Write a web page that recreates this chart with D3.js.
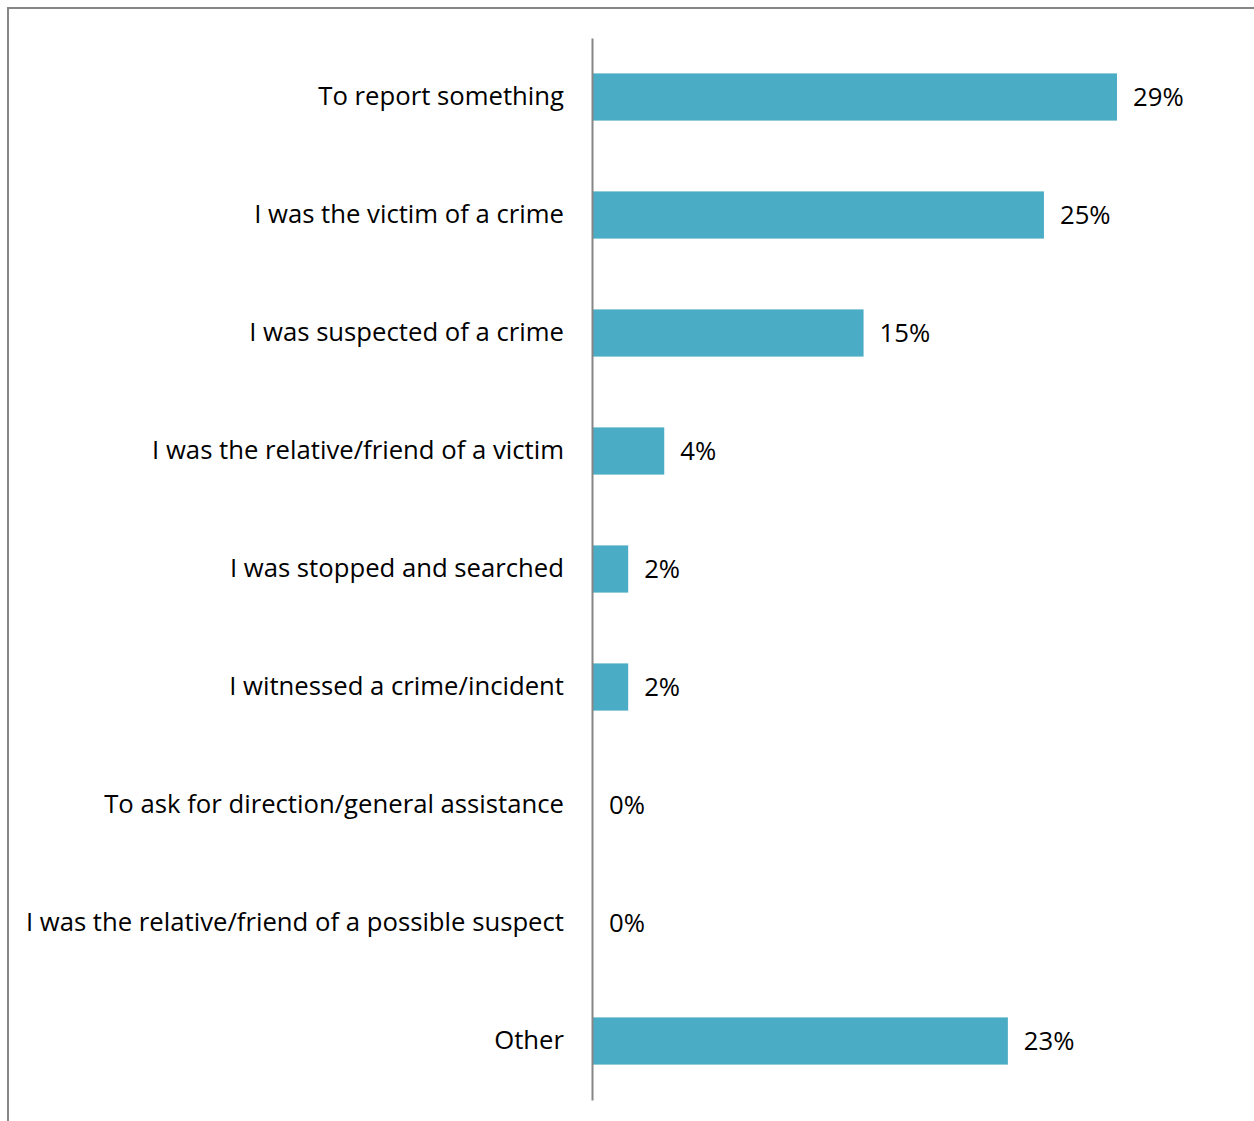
<!DOCTYPE html>
<html>
<head>
<meta charset="utf-8">
<script src="https://cdn.jsdelivr.net/npm/d3@7"></script>
<style>
  body { margin: 0; background: #fff; }
  svg { display: block; }
</style>
</head>
<body>
<div id="chart"></div>
<script>
// reasons for contact, top to bottom
let categories = [
    "To report something",
    "I was the victim of a crime",
    "I was suspected of a crime",
    "I was the relative/friend of a victim",
    "I was stopped and searched",
    "I witnessed a crime/incident",
    "To ask for direction/general assistance",
    "I was the relative/friend of a possible suspect",
    "Other"
];
let values = [29.05, 25, 15, 3.95, 1.95, 1.95, 0, 0, 23];

let svgWidth = 1254;
let svgHeight = 1121;
let margin = { top: 38, left: 592, bottom: 21, right: 0 };
let width = svgWidth - margin.left - margin.right;
let height = svgHeight - margin.top - margin.bottom;

let svg = d3
    .select("#chart")
    .append("svg")
    .attr("width", svgWidth)
    .attr("height", svgHeight);

// frame (top and left edges only)
svg.append("line")
    .attr("x1", 8).attr("x2", svgWidth)
    .attr("y1", 8).attr("y2", 8)
    .attr("stroke", "#868686").attr("stroke-width", 2);
svg.append("line")
    .attr("x1", 8).attr("x2", 8)
    .attr("y1", 7).attr("y2", svgHeight)
    .attr("stroke", "#868686").attr("stroke-width", 2);

let y = d3
    .scaleBand()
    .domain(categories)
    .range([0, height])
    .paddingInner(0.6)
    .paddingOuter(0.3);

let x = d3
    .scaleLinear()
    .domain([0, 29.05])
    .range([0, 524]);

let chart = svg
    .append("g")
    .attr("transform", `translate(${margin.left}, ${margin.top})`);

chart.selectAll("rect")
    .data(values)
    .enter()
    .append("rect")
    .attr("fill", "#4bacc6")
    .attr("x", 1)
    .attr("y", (d, i) => y(categories[i]))
    .attr("height", y.bandwidth())
    .attr("width", d => x(d));

chart.selectAll(".val")
    .data(values)
    .enter()
    .append("text")
    .attr("class", "val")
    .attr("x", d => x(d) + 17)
    .attr("y", (d, i) => y(categories[i]) + y.bandwidth() / 2)
    .attr("dy", "0.36em")
    .style("font-family", "'Open Sans', sans-serif")
    .style("font-size", "25.7px")
    .style("fill", "#000")
    .text(d => Math.round(d) + "%");

let axisY = d3.axisLeft(y).tickSize(0).tickPadding(28);
let groupY = chart.append("g").call(axisY);
groupY.select(".domain").attr("stroke", "#868686").attr("stroke-width", 2);
groupY.selectAll("text")
    .attr("dy", "0.31em")
    .style("font-family", "'Open Sans', sans-serif")
    .style("font-size", "25.7px")
    .style("fill", "#000");
</script>
</body>
</html>
